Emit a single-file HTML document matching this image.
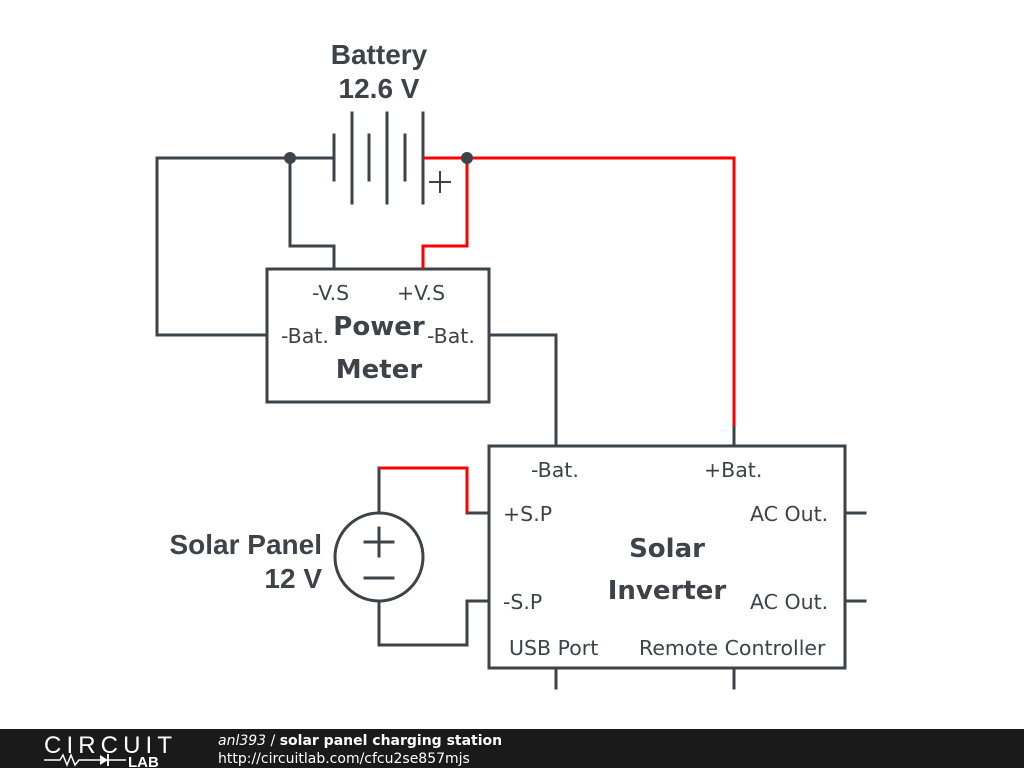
<!DOCTYPE html>
<html><head><style>
body{margin:0;background:#fff}
svg text{font-family:"DejaVu Sans","Liberation Sans",sans-serif;fill:#3d4348}
</style></head><body>
<svg width="1024" height="768" viewBox="0 0 1024 768" xmlns="http://www.w3.org/2000/svg">
<g stroke="#3d4348" stroke-width="3" fill="none" stroke-linecap="square">
<line x1="334" y1="135" x2="334" y2="180"/>
<line x1="352" y1="113" x2="352" y2="203"/>
<line x1="369" y1="135" x2="369" y2="180"/>
<line x1="387" y1="113" x2="387" y2="203"/>
<line x1="405" y1="135" x2="405" y2="180"/>
<line x1="423" y1="113" x2="423" y2="203"/>
<line x1="430" y1="182" x2="450" y2="182" stroke-width="2"/>
<line x1="440" y1="172" x2="440" y2="192" stroke-width="2"/>
<polyline points="334,158 157,158 157,335 267,335"/>
<polyline points="290,158 290,246 334,246 334,269"/>
<rect x="267" y="269" width="222" height="133"/>
<polyline points="489,335 556,335 556,446"/>
<rect x="489" y="446" width="356" height="222"/>
<line x1="845" y1="513" x2="865" y2="513"/>
<line x1="845" y1="601" x2="865" y2="601"/>
<line x1="556" y1="668" x2="556" y2="688"/>
<line x1="734" y1="668" x2="734" y2="688"/>
<line x1="734" y1="426" x2="734" y2="446"/>
<circle cx="379" cy="557" r="44"/>
<line x1="379" y1="468" x2="379" y2="513"/>
<polyline points="379,601 379,645 467,645 467,601 489,601"/>
<line x1="467" y1="513" x2="489" y2="513"/>
<line x1="365" y1="542" x2="393" y2="542"/>
<line x1="379" y1="528" x2="379" y2="556"/>
<line x1="365" y1="578" x2="393" y2="578"/>
</g>
<g stroke="#ff0000" stroke-width="3" fill="none">
<polyline points="423,158 734,158 734,426"/>
<polyline points="467,158 467,246 423,246 423,269"/>
<polyline points="379,468 467,468 467,513"/>
</g>
<circle cx="290" cy="158" r="6" fill="#3d4348"/>
<circle cx="467" cy="158" r="6" fill="#3d4348"/>
<g font-size="28" font-weight="bold" text-anchor="middle">
<text x="379" y="64" style="font-family:'Liberation Sans',sans-serif">Battery</text>
<text x="379" y="98" style="font-family:'Liberation Sans',sans-serif">12.6 V</text>
<text x="322" y="554" text-anchor="end" style="font-family:'Liberation Sans',sans-serif">Solar Panel</text>
<text x="322" y="588" text-anchor="end" style="font-family:'Liberation Sans',sans-serif">12 V</text>
</g>
<g font-size="26" font-weight="bold" text-anchor="middle">
<text x="379" y="335">Power</text>
<text x="379" y="378">Meter</text>
<text x="667" y="557">Solar</text>
<text x="667" y="599">Inverter</text>
</g>
<g font-size="20.5">
<text x="312" y="300">-V.S</text>
<text x="397" y="300">+V.S</text>
<text x="281" y="343">-Bat.</text>
<text x="427" y="343">-Bat.</text>
<text x="531" y="477">-Bat.</text>
<text x="704" y="477">+Bat.</text>
<text x="503" y="521">+S.P</text>
<text x="503" y="609">-S.P</text>
<text x="750" y="521">AC Out.</text>
<text x="750" y="609">AC Out.</text>
<text x="509" y="655">USB Port</text>
<text x="639" y="655">Remote Controller</text>
</g>
<rect x="0" y="729" width="1024" height="39" fill="#1a1a1a"/>
<text x="44" y="753" font-size="24" style="fill:#fff;font-family:'Liberation Sans',sans-serif;font-weight:normal" textLength="128">CIRCUIT</text>
<polyline points="44,760 60,760 63,755 67,765 71,755 75,765 79,760 100,760" stroke="#fff" stroke-width="1.5" fill="none"/>
<polygon points="100,755 100,765 108,760" fill="#fff"/>
<line x1="108" y1="754" x2="108" y2="766" stroke="#fff" stroke-width="2"/>
<line x1="108" y1="760" x2="126" y2="760" stroke="#fff" stroke-width="1.5"/>
<text x="128" y="767" font-size="15" font-weight="bold" style="fill:#fff;font-family:'Liberation Sans',sans-serif">LAB</text>
<text x="218" y="745" font-size="14" style="fill:#fff"><tspan font-style="italic">anl393</tspan> / <tspan font-weight="bold">solar panel charging station</tspan></text>
<text x="218" y="763" font-size="14" style="fill:#fff">http://circuitlab.com/cfcu2se857mjs</text>
</svg>
</body></html>
